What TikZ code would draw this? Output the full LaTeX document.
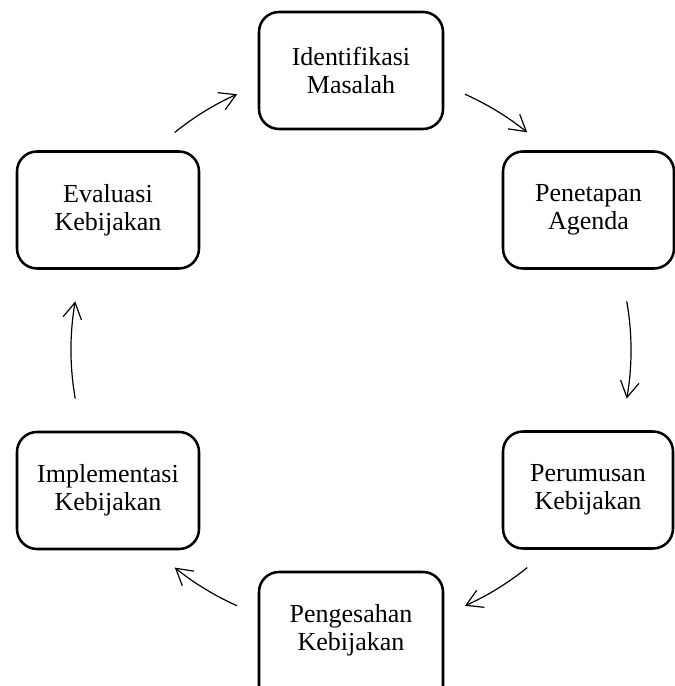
\documentclass[tikz,border=0pt]{standalone}
\usepackage{fontspec}
\setmainfont{Liberation Serif}
\usetikzlibrary{arrows.meta}
\tikzset{
  stage/.style={draw, line width=1.9pt, rounded corners=15pt, align=center,
    font=\fontsize{19.5}{21}\selectfont, minimum height=87.75pt, inner sep=0pt},
  cycarrow/.style={line width=0.9pt, -{Straight Barb[length=12pt,width=14pt]}}
}
\begin{document}
\begin{tikzpicture}[x=0.75pt,y=0.75pt]
        \useasboundingbox (0,0) rectangle (675,686);
        %% stages
        \node[stage, minimum width=138pt]    (idf) at (351,615.5) {Identifikasi\\Masalah};
        \node[stage, minimum width=128.25pt] (pen) at (588.5,476) {Penetapan\\Agenda};
        \node[stage, minimum width=127.5pt]  (per) at (588,196)   {Perumusan\\Kebijakan};
        %% runs off the bottom edge
        \node[stage, minimum width=138pt, minimum height=105pt, text depth=21.5pt]
            (pgs) at (351,44) {Pengesahan\\Kebijakan};
        \node[stage, minimum width=136.5pt]  (imp) at (108,195.5) {Implementasi\\Kebijakan};
        \node[stage, minimum width=136.5pt]  (eva) at (108,476)   {Evaluasi\\Kebijakan};
        %% cycle arrows
        \coordinate (mid) at (351,336);
        \foreach \i/\a/\b in {1/129/114,2/66/51,3/10/-10,4/-51/-66,5/-114/-129,6/190/170}
        {
            \coordinate (s\i) at ([shift={(\a:280)}]mid);
            \draw[cycarrow] (s\i) arc[start angle=\a, end angle=\b, radius=280];
        }
\end{tikzpicture}
\end{document}
